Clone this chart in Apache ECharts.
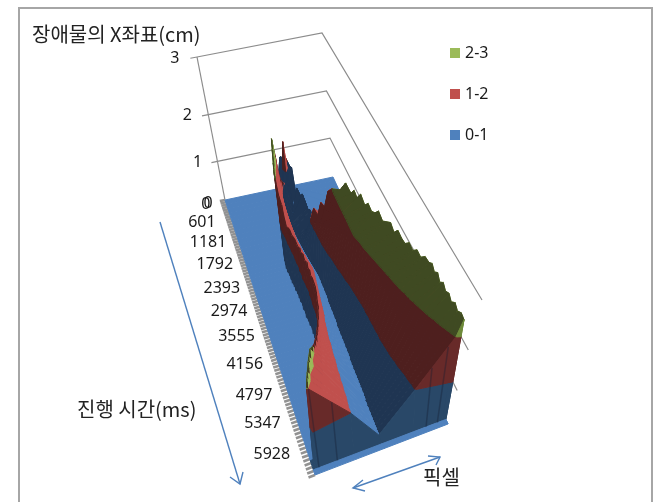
<!DOCTYPE html>
<html>
<head>
<meta charset="utf-8">
<style>html,body{margin:0;padding:0;background:#fff}#chart{width:661px;height:502px}</style>
<script src="https://cdn.jsdelivr.net/npm/echarts@6/dist/echarts.min.js"></script>
</head>
<body>
<div id="chart"></div>
<script>
// Axis labels and legend
const yAxisTitle = '장애물의 X좌표(cm)';
const timeAxisTitle = '진행 시간(ms)';
const pixelAxisTitle = '픽셀';
const heightTicks = [0, 1, 2, 3];
const timeLabels = [0, 601, 1181, 1792, 2393, 2974, 3555, 4156, 4797, 5347, 5928];
const bandNames = ['2-3', '1-2', '0-1'];
const timeAxisMax = 6300;
const timeTickStep = 70;

// One entry per sampled frame (ms); the arrays below hold the surface profile of each frame,
// pixel positions as a fraction of the image width, heights in cm.
const rowTime = [0,126,252,378,504,630,756,882,1008,1134,1260,1386,1512,1638,1764,1890,1985,2079,2174,2268,2363,2457,2552,2646,2741,2835,2930,3024,3119,3213,3308,3402,3497,3591,3686,3780,3875,3969,4064,4158,4253,4347,4442,4536,4631,4725,4820,4914,5009,5103,5198,5292,5387,5481,5576,5670,5765,5859,5954,6048,6210,6300];
const riseStart = [.46,.47,.47,.46,.46,.45,.44,.42,.40,.39,.38,.37,.355,.345,.33,.315,.305,.30,.295,.295,.30,.30,.30,.305,.305,.31,.31,.31,.315,.31,.315,.31,.315,.315,.32,.315,.315,.31,.31,.31,.305,.30,.29,.28,.275,.26,.25,.235,.22,.205,.19,.17,.15,.13,.105,.085,.07,.05,.035,.02,.02,.02];
const ridgePixel = [.47,.52,.54,.58,.52,.52,.50,.48,.45,.42,.40,.385,.365,.355,.34,.325,.315,.31,.305,.305,.31,.31,.31,.315,.315,.32,.32,.32,.325,.32,.325,.32,.325,.325,.33,.325,.325,.32,.32,.32,.315,.31,.30,.29,.285,.27,.26,.245,.23,.215,.20,.18,.16,.14,.115,.095,.08,.06,.045,.03,.03,.03];
const ridgeHeight = [0,.9,.7,.8,1.3,1.6,.7,.9,1.0,1.2,1.5,1.9,2.3,2.4,2.3,2.15,2.1,2.03,1.95,1.8,1.7,1.5,1.4,1.45,1.5,1.45,1.5,1.55,1.5,1.55,1.6,1.6,1.65,1.6,1.65,1.62,1.68,1.65,1.7,1.68,1.72,1.7,1.72,1.75,1.73,1.78,1.75,1.8,1.78,1.82,1.85,1.88,1.92,2.02,2.12,2.1,2.14,2.06,2.08,2.02,0,0];
const shoulderPixel = [.48,.53,.55,.59,.53,.53,.51,.49,.46,.43,.41,.40,.385,.38,.38,.38,.38,.38,.38,.38,.38,.38,.38,.385,.385,.39,.395,.40,.405,.41,.41,.405,.40,.395,.39,.385,.38,.375,.37,.365,.36,.35,.345,.34,.335,.33,.33,.325,.32,.32,.315,.31,.31,.305,.305,.30,.30,.295,.29,.29,.29,.29];
const valleyPixel = [.49,.54,.56,.60,.54,.54,.52,.50,.47,.44,.42,.41,.40,.40,.40,.41,.42,.44,.46,.48,.50,.51,.52,.52,.52,.52,.52,.52,.52,.515,.515,.515,.515,.515,.515,.51,.51,.51,.51,.51,.51,.51,.51,.505,.505,.505,.505,.505,.505,.505,.505,.505,.50,.50,.50,.50,.50,.50,.50,.50,.50,.50];
const rampOne = [.6,.6,.6,.65,.6,.6,.58,.60,.60,.62,.60,.62,.62,.63,.60,.58,.56,.55,.535,.54,.54,.545,.545,.55,.55,.555,.56,.565,.575,.58,.585,.59,.60,.605,.61,.62,.625,.63,.635,.64,.645,.65,.65,.655,.655,.66,.66,.665,.665,.67,.675,.68,.685,.695,.70,.71,.72,.725,.735,.74,.74,.74];
const rampTwo = [.7,.7,.7,.7,.7,.7,.58,.60,.60,.62,.60,.62,.62,.63,.60,.58,.56,.55,.57,.59,.61,.63,.65,.67,.665,.665,.665,.665,.665,.665,.665,.665,.665,.665,.665,.665,.675,.685,.69,.70,.71,.72,.73,.74,.75,.76,.77,.78,.79,.805,.815,.83,.845,.86,.875,.895,.91,.93,.95,.97,.97,.97];
const edgePixel = [.8,.8,.8,.8,.8,.8,.58,.60,.60,.62,.60,.62,.62,.63,.60,.58,.56,.55,.57,.59,.61,.63,.65,.67,.72,.75,.775,.785,.795,.805,.82,.83,.84,.85,.86,.875,.885,.90,.91,.92,.93,.94,.95,.96,.97,.98,.99,1,1,1,1,1,1,1,1,1,1,1,1,1,1,1];
const edgeHeight = [0,0,0,0,0,0,.6,.45,.65,.4,.5,.55,.35,.5,.7,.8,.95,1.0,1.3,1.2,1.55,1.5,1.9,2.0,2.02,2.2,2.06,2.18,2.08,2.24,2.1,2.2,2.12,2.16,2.26,2.14,2.2,2.25,2.14,2.25,2.18,2.15,2.24,2.17,2.26,2.2,2.29,2.26,2.33,2.26,2.34,2.25,2.34,2.27,2.33,2.26,2.35,2.29,2.36,2.33,0,0];

// Dark seams running down the front wall
const wallStreakPixel = [.04, .17, .84, .93];

// Band colours: lit faces, front walls, and faces turned away from the light
const bandStyles = [
  { name: '0-1', lit: '#4F81BD', wall: '#294868', shade: '#1F3552' },
  { name: '1-2', lit: '#C0504D', wall: '#682A29', shade: '#4E1F1E' },
  { name: '2-3', lit: '#9BBB59', wall: '#6E8A3A', shade: '#3F4A22' }
];

// Perspective box: floor and top-plane corners on the page
function planeMap(A, B, C, D) {
  const dx1 = B[0] - C[0], dy1 = B[1] - C[1], dx2 = D[0] - C[0], dy2 = D[1] - C[1];
  const sx = A[0] - B[0] + C[0] - D[0], sy = A[1] - B[1] + C[1] - D[1];
  const det = dx1 * dy2 - dx2 * dy1;
  const g = (sx * dy2 - dx2 * sy) / det, h = (dx1 * sy - sx * dy1) / det;
  const a = B[0] * (1 + g) - A[0], b = D[0] * (1 + h) - A[0];
  const d = B[1] * (1 + g) - A[1], e = D[1] * (1 + h) - A[1];
  return (u, v) => {
    const w = 1 + g * u + h * v;
    return [(a * u + b * v + A[0]) / w, (d * u + e * v + A[1]) / w];
  };
}
const floorPlane = planeMap([225, 200], [333, 177], [448, 424], [315, 475]);
const topPlane = planeMap([197, 57], [322, 33], [482, 300], [302, 362]);
function project(u, v, z) {
  const f = floorPlane(u, v), t = topPlane(u, v);
  const s = z / (z + (3 - z) * 1.35);
  return [f[0] + (t[0] - f[0]) * s, f[1] + (t[1] - f[1]) * s];
}

// Split a polygon of [pixel, time, height] points by height
function clipAbove(poly, level, keepAbove) {
  const out = [];
  const inside = p => keepAbove ? p[2] >= level : p[2] <= level;
  for (let i = 0; i < poly.length; i++) {
    const a = poly[i], b = poly[(i + 1) % poly.length];
    if (inside(a)) out.push(a);
    if (inside(a) !== inside(b)) {
      const t = (level - a[2]) / (b[2] - a[2]);
      out.push([a[0] + (b[0] - a[0]) * t, a[1] + (b[1] - a[1]) * t, level]);
    }
  }
  return out;
}

function rowProfile(i) {
  const e = edgeHeight[i], r = ridgeHeight[i];
  return [
    [0, 0], [riseStart[i], 0], [ridgePixel[i], r], [shoulderPixel[i], Math.min(1, r)],
    [valleyPixel[i], 0], [valleyPixel[i], 0], [rampOne[i], Math.min(1, e)],
    [rampTwo[i], Math.min(2, e)], [edgePixel[i], e], [1, 0]
  ];
}

// Height of a frame's profile at a given pixel
function profileHeight(i, u) {
  const p = rowProfile(i);
  for (let k = 0; k + 1 < p.length; k++) {
    if (u >= p[k][0] && u <= p[k + 1][0] && p[k + 1][0] > p[k][0]) {
      return p[k][1] + (p[k + 1][1] - p[k][1]) * (u - p[k][0]) / (p[k + 1][0] - p[k][0]);
    }
  }
  return 0;
}

// Faces for each band, ordered back to front through z2
const lastWallRow = rowTime.length - 3;
const backZoneEnd = 2200;
const outerStrip = 8;
const bandFaces = [[], [], []];
for (let i = 0; i + 1 < rowTime.length; i++) {
  const p0 = rowProfile(i), p1 = rowProfile(i + 1);
  const v0 = rowTime[i] / timeAxisMax, v1 = rowTime[i + 1] / timeAxisMax;
  const isFront = i === lastWallRow;
  for (let k = 0; k + 1 < p0.length; k++) {
    const quad = [
      [p0[k][0], v0, p0[k][1]], [p0[k + 1][0], v0, p0[k + 1][1]],
      [p1[k + 1][0], v1, p1[k + 1][1]], [p1[k][0], v1, p1[k][1]]
    ];
    const raised = quad.some(q => q[2] > 0);
    const du = (p0[k + 1][0] - p0[k][0] + p1[k + 1][0] - p1[k][0]) || 1e-6;
    const slope = (p0[k + 1][1] - p0[k][1] + p1[k + 1][1] - p1[k][1]) / du;
    for (let b = 0; b < 3; b++) {
      const part = clipAbove(clipAbove(quad, b, true), b + 1, false);
      if (part.length < 3) continue;
      const st = bandStyles[b];
      const tangled = b === 0 && raised && k < outerStrip && rowTime[i] < backZoneEnd;
      const fill = isFront ? st.wall : ((slope > 0.3 || tangled) ? st.shade : st.lit);
      bandFaces[b].push({ pts: part, fill, z2: i * 20 + (10 - k) });
    }
  }
}

function faceRenderer(faces) {
  return (params, api) => {
    const f = faces[api.value(0)];
    return {
      type: 'polygon',
      shape: { points: f.pts.map(q => api.coord(project(q[0], q[1], q[2]))) },
      style: { fill: f.fill, stroke: f.fill, lineWidth: 1 },
      z2: f.z2, silent: true
    };
  };
}

function renderStreak(params, api) {
  const u = wallStreakPixel[api.value(0)];
  const top = project(u, rowTime[lastWallRow] / timeAxisMax, profileHeight(lastWallRow, u));
  const foot = project(u, rowTime[lastWallRow + 1] / timeAxisMax, 0);
  return {
    type: 'polyline',
    shape: { points: [api.coord(top), api.coord(foot)] },
    style: { stroke: 'rgba(20,30,50,0.35)', lineWidth: 1.5, fill: null }
  };
}

const numberFont = '16px "Noto Sans", sans-serif';
const lineColor = '#8C8C8C';

// Walls, tick marks and tick labels
const frameItems = [];
heightTicks.forEach(h => {
  if (h > 0) frameItems.push({ kind: 'wall', h });
  frameItems.push({ kind: 'heightLabel', h });
});
frameItems.push({ kind: 'axis' });
for (let t = 0; t <= timeAxisMax; t += timeTickStep) frameItems.push({ kind: 'timeTick', t });
timeLabels.forEach(t => frameItems.push({ kind: 'timeLabel', t }));

function renderFrame(params, api) {
  const it = frameItems[api.value(0)];
  const at = (u, v, z) => api.coord(project(u, v, z));
  const stroke = { stroke: lineColor, lineWidth: 1.2, fill: null };
  if (it.kind === 'wall') {
    const stub = at(-0.05, 0, it.h);
    return { type: 'polyline', shape: { points: [stub, at(0, 0, it.h), at(1, 0, it.h), at(1, 1, it.h)] }, style: stroke };
  }
  if (it.kind === 'axis') {
    return { type: 'polyline', shape: { points: [at(0, 0, 0), at(0, 0, 3)] }, style: stroke };
  }
  if (it.kind === 'timeTick') {
    const v = it.t / timeAxisMax;
    return { type: 'polyline', shape: { points: [at(-0.045, v, 0), at(0, v, 0)] }, style: { stroke: '#929292', lineWidth: 2.6, fill: null } };
  }
  const isHeight = it.kind === 'heightLabel';
  const v = isHeight ? 0 : it.t / timeAxisMax;
  let p, rise;
  if (isHeight) {
    p = at(-0.165, 0, it.h);
    rise = it.h === 0 ? 0 : 3;
  } else if (it.t === 0) {
    p = at(-0.145, 0, 0);
    rise = 0;
  } else {
    p = at(-0.25, v, 0);
    rise = 4 + 9 * v;
  }
  return {
    type: 'text',
    style: { text: String(isHeight ? it.h : it.t), x: p[0], y: p[1] - rise, fill: '#1a1a1a', font: numberFont, align: 'center', verticalAlign: 'middle' }
  };
}

const arrowColor = '#4F81BD';
function arrowLine(points) {
  return { type: 'polyline', shape: { points }, style: { stroke: arrowColor, lineWidth: 1.4, fill: null }, silent: true };
}
function titleText(text, x, y) {
  return { type: 'text', x, y, style: { text, fill: '#222', font: '20px "Noto Sans CJK KR", sans-serif', align: 'left', verticalAlign: 'middle' }, silent: true };
}

const option = {
  backgroundColor: '#fff',
  animation: false,
  grid: { left: 0, right: 0, top: 0, bottom: 0 },
  xAxis: { type: 'value', min: 0, max: 661, show: false },
  yAxis: { type: 'value', min: 0, max: 502, inverse: true, show: false },
  legend: {
    data: bandNames, orient: 'vertical', left: 445, top: 40, itemWidth: 10, itemHeight: 10, itemGap: 25, icon: 'rect',
    selectedMode: false,
    textStyle: { fontFamily: '"Noto Sans", sans-serif', fontSize: 16, color: '#1a1a1a' }
  },
  series: [
    {
      type: 'custom', name: 'frame', coordinateSystem: 'cartesian2d', clip: false, silent: true, z: 1,
      data: frameItems.map((_, i) => [i, i]), encode: { x: 0, y: 1 }, renderItem: renderFrame, progressive: 0
    }
  ].concat(bandStyles.map((st, b) => ({
    type: 'custom', name: st.name, coordinateSystem: 'cartesian2d', clip: false, silent: true, z: 2,
    itemStyle: { color: st.lit },
    data: bandFaces[b].map((_, i) => [i, i]), encode: { x: 0, y: 1 }, renderItem: faceRenderer(bandFaces[b]), progressive: 0
  }))).concat([
    {
      type: 'custom', name: 'seams', coordinateSystem: 'cartesian2d', clip: false, silent: true, z: 3,
      data: wallStreakPixel.map((_, i) => [i, i]), encode: { x: 0, y: 1 }, renderItem: renderStreak, progressive: 0
    }
  ]),
  graphic: [
    { type: 'rect', shape: { x: 19, y: 8, width: 633, height: 520 }, style: { fill: 'none', stroke: '#A6A6A6', lineWidth: 2 }, silent: true, z: 0 },
    titleText(yAxisTitle, 32, 34),
    titleText(timeAxisTitle, 77, 409),
    titleText(pixelAxisTitle, 423, 477),
    arrowLine([[160, 222], [240, 484]]),
    arrowLine([[230, 477], [240, 484], [243, 472]]),
    arrowLine([[353, 488], [440, 457]]),
    arrowLine([[363, 480], [353, 488], [365, 491]]),
    arrowLine([[428, 456], [440, 457], [436, 465]])
  ]
};

const chart = echarts.init(document.getElementById('chart'), null, { renderer: 'canvas' });
chart.setOption(option);
</script>
</body>
</html>
